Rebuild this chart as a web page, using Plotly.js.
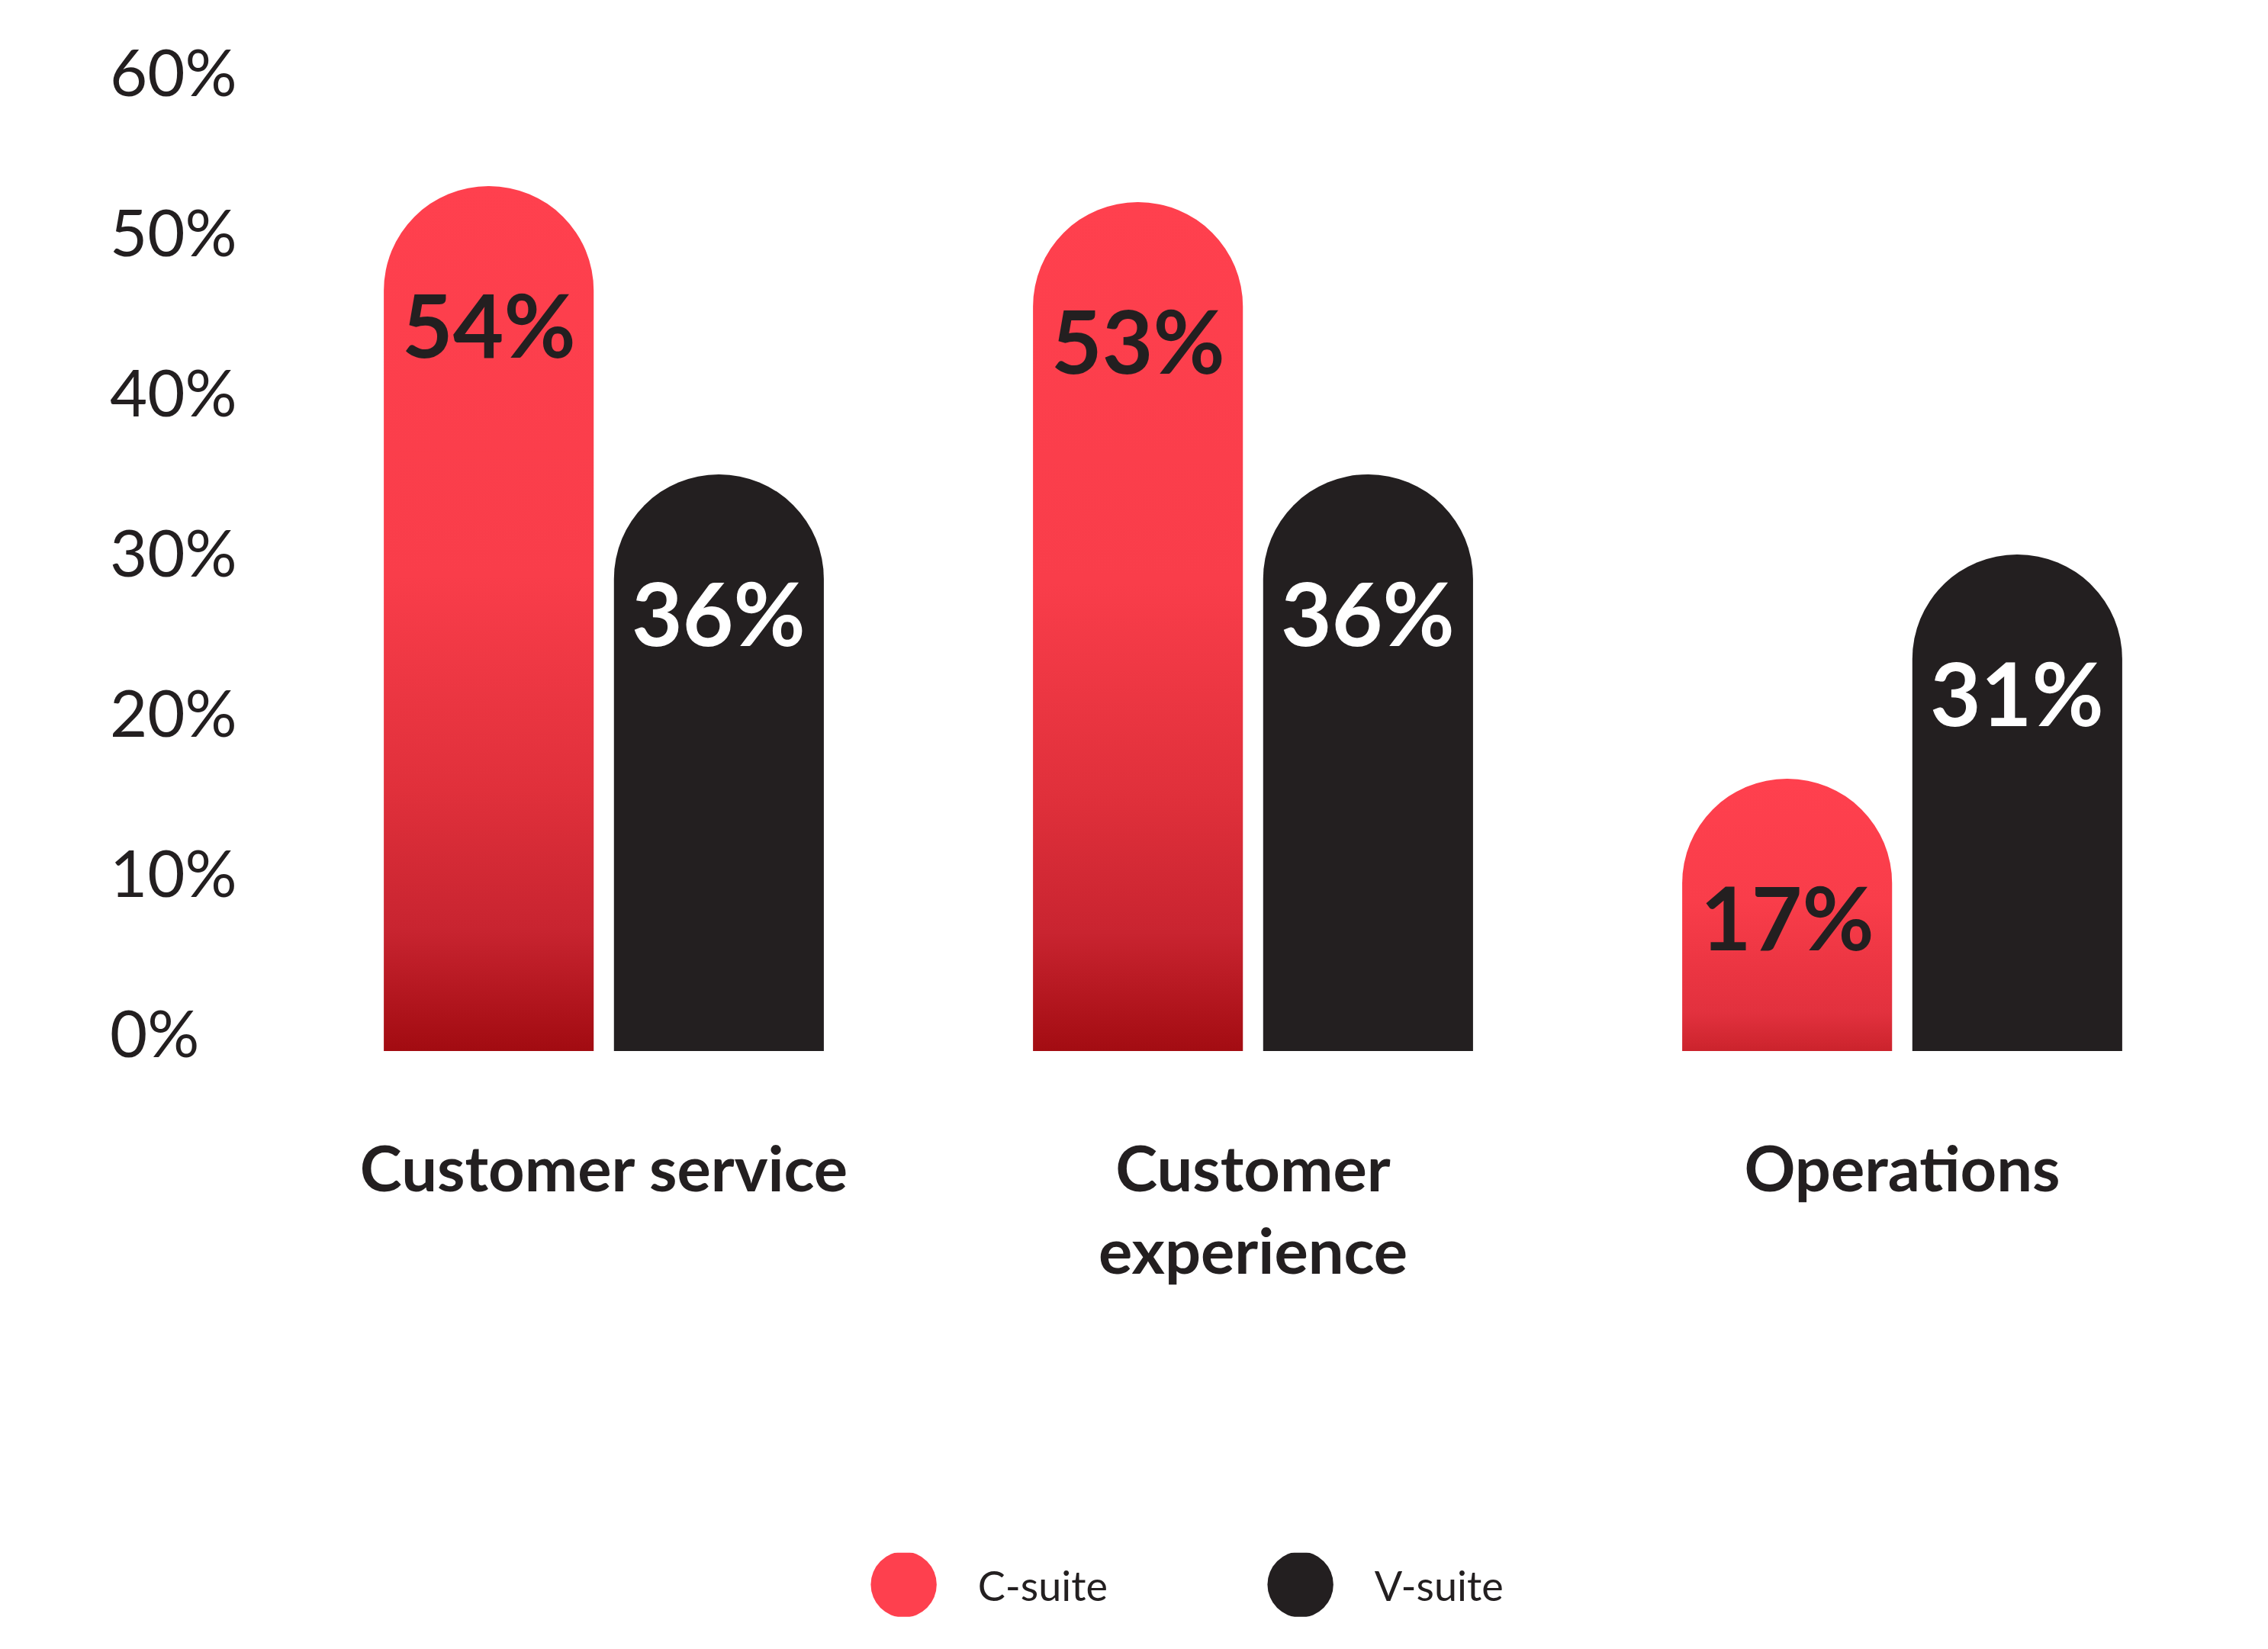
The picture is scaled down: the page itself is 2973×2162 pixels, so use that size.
<!DOCTYPE html>
<html><head><meta charset="utf-8">
<script src="https://cdn.plot.ly/plotly-3.0.1.min.js"></script>
<style>html,body{margin:0;padding:0;background:#fff}#chart{width:2973px;height:2162px}</style>
</head><body><div id="chart"></div>
<script>
// ---- data ----
const categories = ["Customer service", "Customer<br>experience", "Operations"];
const seriesNames = ["C-suite", "V-suite"];
const cSuite = [54, 53, 17];
const vSuite = [36, 36, 31];
const yTickValues = [0, 10, 20, 30, 40, 50, 60];
const yTickLabels = ["0%", "10%", "20%", "30%", "40%", "50%", "60%"];

// ---- style ----
const RED = "#fe404e", BLACK = "#231f20", WHITE = "#ffffff";
const FONT = "Lato, 'Open Sans', sans-serif";
const BARGAP = 0.291, BARGROUPGAP = 0.088;

function barTrace(name, values, color) {
  return {
    type: 'bar', name: name, x: categories, y: values,
    marker: {color: color, cornerradius: '50%'},
    showlegend: false, hoverinfo: 'skip'
  };
}
function legendTrace(name, color) {
  return {type: 'scatter', mode: 'markers', name: name, x: [null], y: [null],
    marker: {color: color, size: 16, symbol: 'circle'}, showlegend: true, hoverinfo: 'skip'};
}

const traces = [
  barTrace(seriesNames[0], cSuite, RED),
  barTrace(seriesNames[1], vSuite, BLACK),
  legendTrace(seriesNames[0], RED),
  legendTrace(seriesNames[1], BLACK)
];

// value labels, placed at each bar's centre through the category axis
const groupOffset = (1 - BARGAP) / 4;
function valueLabels(values, side, color) {
  return values.map((v, i) => ({
    x: i + side * groupOffset, y: v, xref: 'x', yref: 'y',
    text: v + '%', showarrow: false, yanchor: 'middle', xanchor: 'center', yshift: -180,
    font: {family: FONT, size: 115, color: color, weight: 700}
  }));
}

const layout = {
  width: 2973, height: 2162,
  paper_bgcolor: WHITE, plot_bgcolor: WHITE,
  margin: {l: 140, r: 54, t: 55, b: 784, pad: 0},
  barmode: 'group', bargap: BARGAP, bargroupgap: BARGROUPGAP,
  xaxis: {domain: [0.08133, 1], range: [-0.5, 2.5], type: 'category',
    showgrid: false, zeroline: false, showline: false, ticks: '',
    tickfont: {family: FONT, size: 83, color: BLACK, weight: 700},
    ticklabelstandoff: 100},
  yaxis: {anchor: 'free', position: 0, range: [0, 63],
    tickvals: yTickValues, ticktext: yTickLabels,
    ticklabelposition: 'inside', ticklabelshift: -22, ticklabeloverflow: 'allow',
    showgrid: false, zeroline: false, showline: false, ticks: '',
    tickfont: {family: FONT, size: 85, color: BLACK}},
  annotations: valueLabels(cSuite, -1, BLACK).concat(valueLabels(vSuite, 1, WHITE)),
  showlegend: true,
  legend: {orientation: 'h', x: 0.341, xanchor: 'left', y: -0.529, yanchor: 'middle',
    itemwidth: 184, entrywidth: 321,
    font: {family: FONT, size: 54, color: BLACK}, bgcolor: 'rgba(0,0,0,0)'}
};

function mix(a, b, t) {
  const pa = [1, 3, 5].map(k => parseInt(a.substr(k, 2), 16));
  const pb = [1, 3, 5].map(k => parseInt(b.substr(k, 2), 16));
  return 'rgb(' + pa.map((v, k) => Math.round(v + (pb[k] - v) * t)).join(',') + ')';
}

Plotly.newPlot('chart', traces, layout, {staticPlot: true, displayModeBar: false}).then(gd => {
  const NS = 'http://www.w3.org/2000/svg';
  const svg = gd.querySelector('svg.main-svg');
  let defs = svg.querySelector('defs');
  if (!defs) { defs = document.createElementNS(NS, 'defs'); svg.insertBefore(defs, svg.firstChild); }
  const barTraces = gd.querySelectorAll('.barlayer .trace');
  if (barTraces.length) {
    const paths = Array.from(barTraces[0].querySelectorAll('.point path'));
    const hs = paths.map(p => p.getBBox().height);
    const hmax = Math.max.apply(null, hs);
    paths.forEach((p, idx) => {
      const f = hs[idx] / hmax;
      const grad = document.createElementNS(NS, 'linearGradient');
      const id = 'cRedGrad' + idx;
      grad.setAttribute('id', id);
      grad.setAttribute('x1', '0'); grad.setAttribute('y1', '0');
      grad.setAttribute('x2', '0'); grad.setAttribute('y2', '1');
      const bottom = mix('#ff404e', '#a20b11', 0.35 + 0.65 * f);
      const lower = mix('#ff404e', '#c82430', 0.3 + 0.7 * f);
      [[0, '#ff404e'], [0.45, '#f93d4a'], [0.7, mix('#ff404e', '#e0303b', 0.5 + 0.5 * f)], [0.86, lower], [1, bottom]].forEach(([o, c]) => {
        const s = document.createElementNS(NS, 'stop');
        s.setAttribute('offset', o); s.setAttribute('stop-color', c);
        grad.appendChild(s);
      });
      defs.appendChild(grad);
      p.style.fill = 'url(#' + id + ')';
    });
  }
  gd.querySelectorAll('.legend .legendpoints path.scatterpts').forEach(p => {
    const t = p.getAttribute('transform') || '';
    p.setAttribute('transform', t + ' scale(5.4)');
  });
});
</script>
</body></html>
